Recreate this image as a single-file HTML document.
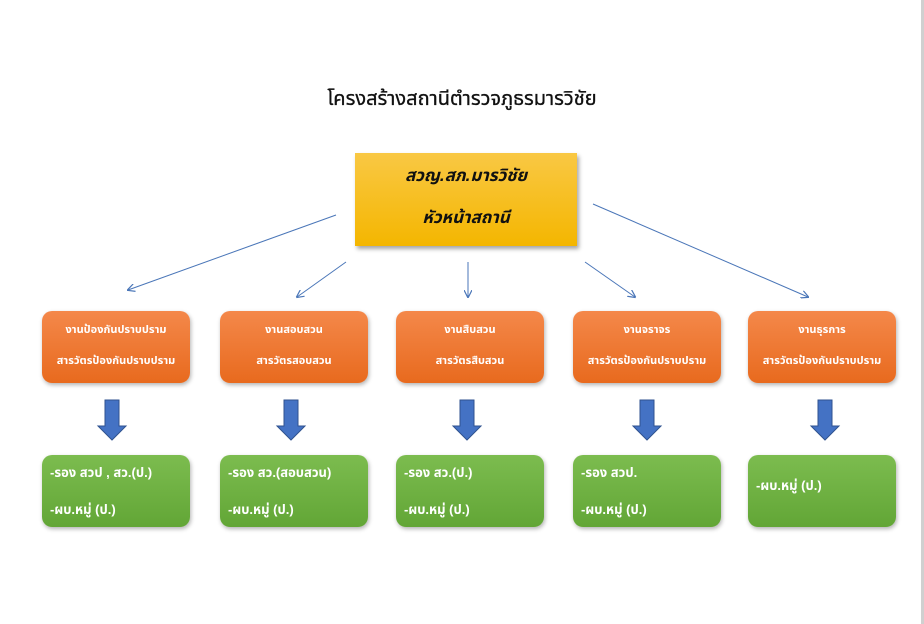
<!DOCTYPE html>
<html><head><meta charset="utf-8"><style>
body{margin:0;width:924px;height:624px;background:#fff;position:relative;overflow:hidden;font-family:"Liberation Sans","Noto Sans Thai","Tahoma",sans-serif}
.edge{position:absolute;left:921px;top:0;width:3px;height:624px;background:#d0d0d0}
.t{position:absolute;left:0;width:924px;top:84px;text-align:center;font-size:20px;color:#111;-webkit-text-stroke:0.3px #111}
.top{position:absolute;left:355px;top:153px;width:222px;height:93px;background:linear-gradient(#f9c844,#f4b600);box-shadow:2px 3px 4px rgba(0,0,0,.35);text-align:center;font-style:italic;font-weight:bold;font-size:17px;color:#111}
.or{position:absolute;top:311px;width:148px;height:72px;border-radius:10px;background:linear-gradient(#f4884a,#e86a1e);box-shadow:1px 2px 4px rgba(0,0,0,.3);color:#fff;font-size:11px;font-weight:bold;text-align:center}
.gr{position:absolute;top:455px;width:148px;height:72px;border-radius:10px;background:linear-gradient(#7cbc4f,#62a636);box-shadow:1px 2px 4px rgba(0,0,0,.3);color:#fff;font-size:13px;font-weight:bold}
.or div{position:absolute;left:0;width:100%}
.gr div{position:absolute;left:8px}
</style></head><body>
<div class="edge"></div>
<div class="t">โครงสร้างสถานีตำรวจภูธรมารวิชัย</div>
<div class="top"><div style="position:absolute;top:10px;width:100%">สวญ.สภ.มารวิชัย</div><div style="position:absolute;top:52px;width:100%">หัวหน้าสถานี</div></div>
<svg width="924" height="624" style="position:absolute;left:0;top:0">
<defs><marker id="a" markerWidth="8" markerHeight="8" refX="7" refY="4" orient="auto"><path d="M0,0 L8,4 L0,8" fill="none" stroke="#4a76b8" stroke-width="1.2"/></marker></defs>
<g stroke="#4a76b8" stroke-width="1" marker-end="url(#a)">
<line x1="336" y1="215" x2="128" y2="290"/>
<line x1="346" y1="262" x2="297" y2="297"/>
<line x1="468" y1="262" x2="468" y2="297"/>
<line x1="585" y1="262" x2="635" y2="297"/>
<line x1="593" y1="204" x2="808" y2="297"/>
</g>
<g fill="#4472c4" stroke="#2f528f" stroke-width="1">
<path d="M105,400h14v26h7l-14,14l-14,-14h7z"/>
<path d="M284,400h14v26h7l-14,14l-14,-14h7z"/>
<path d="M460,400h14v26h7l-14,14l-14,-14h7z"/>
<path d="M640,400h14v26h7l-14,14l-14,-14h7z"/>
<path d="M818,400h14v26h7l-14,14l-14,-14h7z"/>
</g>
</svg>
<div class="or" style="left:42px"><div style="top:10px">งานป้องกันปราบปราม</div><div style="top:41px">สารวัตรป้องกันปราบปราม</div></div>
<div class="or" style="left:220px"><div style="top:10px">งานสอบสวน</div><div style="top:41px">สารวัตรสอบสวน</div></div>
<div class="or" style="left:396px"><div style="top:10px">งานสืบสวน</div><div style="top:41px">สารวัตรสืบสวน</div></div>
<div class="or" style="left:573px"><div style="top:10px">งานจราจร</div><div style="top:41px">สารวัตรป้องกันปราบปราม</div></div>
<div class="or" style="left:748px"><div style="top:10px">งานธุรการ</div><div style="top:41px">สารวัตรป้องกันปราบปราม</div></div>
<div class="gr" style="left:42px"><div style="top:8px">-รอง สวป , สว.(ป.)</div><div style="top:45px">-ผบ.หมู่ (ป.)</div></div>
<div class="gr" style="left:220px"><div style="top:8px">-รอง สว.(สอบสวน)</div><div style="top:45px">-ผบ.หมู่ (ป.)</div></div>
<div class="gr" style="left:396px"><div style="top:8px">-รอง สว.(ป.)</div><div style="top:45px">-ผบ.หมู่ (ป.)</div></div>
<div class="gr" style="left:573px"><div style="top:8px">-รอง สวป.</div><div style="top:45px">-ผบ.หมู่ (ป.)</div></div>
<div class="gr" style="left:748px"><div style="top:21px">-ผบ.หมู่ (ป.)</div></div>
</body></html>
